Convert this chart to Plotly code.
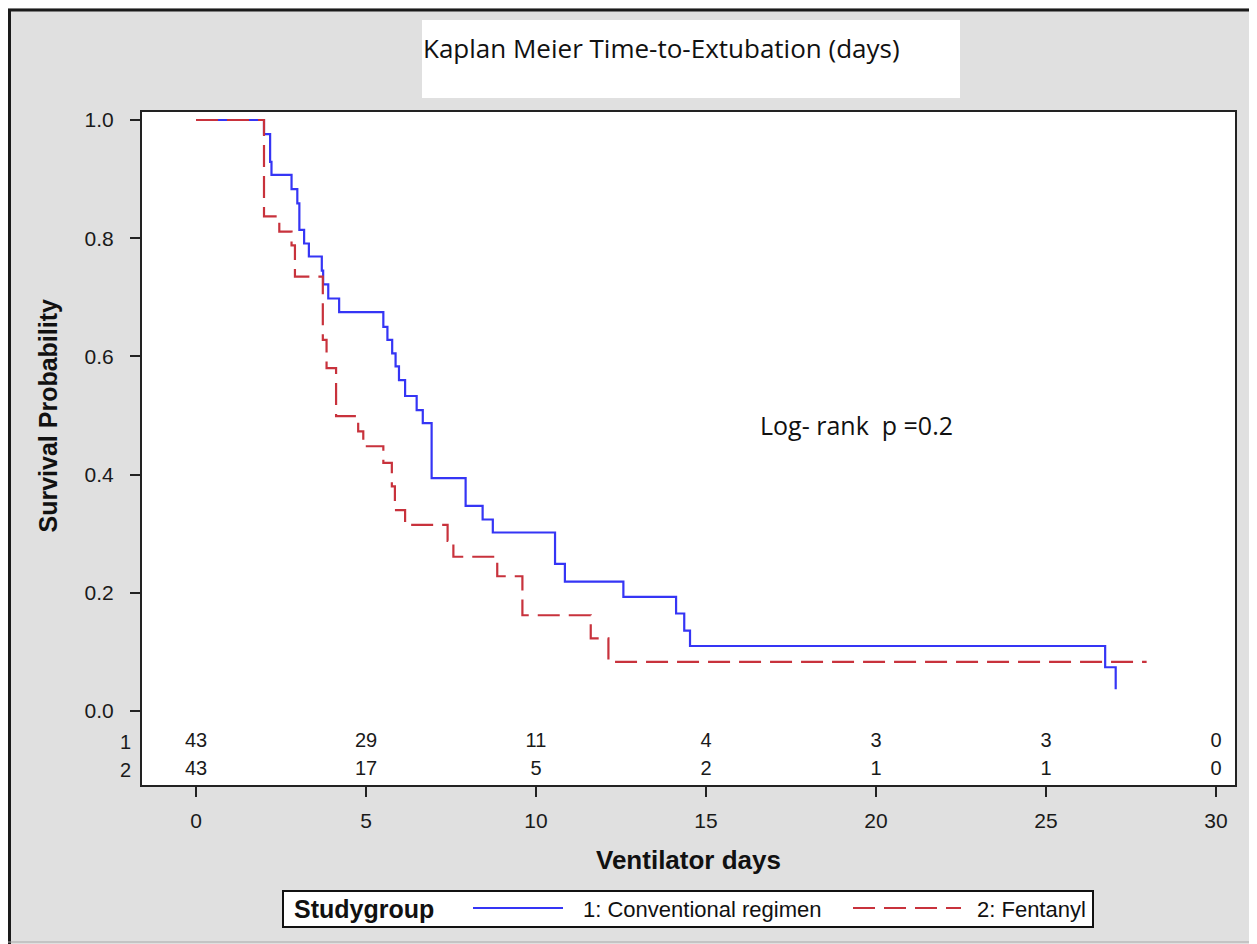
import plotly.graph_objects as go

# ---------------- data ----------------
conv_days = [0, 2.0, 2.18, 2.22, 2.81, 2.98, 3.04, 3.18, 3.32, 3.70, 3.74, 3.89, 4.21,
             5.51, 5.63, 5.77, 5.87, 5.97, 6.15, 6.49, 6.67, 6.93, 7.93, 8.43, 8.73,
             10.56, 10.85, 12.57, 14.12, 14.36, 14.53, 26.74, 27.05]
conv_surv = [1.0, 0.976, 0.929, 0.907, 0.883, 0.859, 0.814, 0.791, 0.769, 0.745, 0.722, 0.698, 0.675,
             0.650, 0.628, 0.605, 0.583, 0.560, 0.533, 0.509, 0.487, 0.394, 0.347, 0.324, 0.302,
             0.249, 0.219, 0.193, 0.165, 0.136, 0.110, 0.074, 0.037]

fent_days = [0, 2.0, 2.45, 2.81, 2.91, 3.73, 3.84, 4.12, 4.77, 4.92, 5.51, 5.76, 5.85,
             6.15, 7.40, 7.57, 8.86, 9.60, 11.61, 12.13, 27.96]
fent_surv = [1.0, 0.837, 0.811, 0.788, 0.735, 0.628, 0.580, 0.499, 0.473, 0.448, 0.420, 0.380, 0.340,
             0.315, 0.288, 0.261, 0.228, 0.162, 0.123, 0.083, 0.083]

risk_days = [0, 5, 10, 15, 20, 25, 30]
risk_conv = [43, 29, 11, 4, 3, 3, 0]
risk_fent = [43, 17, 5, 2, 1, 1, 0]

x_ticks = [0, 5, 10, 15, 20, 25, 30]
y_ticks = [0.0, 0.2, 0.4, 0.6, 0.8, 1.0]
y_ticktext = ["0.0", "0.2", "0.4", "0.6", "0.8", "1.0"]

group_names = ["1: Conventional regimen", "2: Fentanyl"]
title_text = "Kaplan Meier Time-to-Extubation (days)"
pval_text = "Log- rank  p =0.2"

# ---------------- layout geometry (page pixels; page body has an 8px margin) ----------------
OFF = 8
W, H = 1257 - OFF, 944 - OFF
PL, PR, PT, PB = 142, 1235, 112, 785      # plot area in page pixels
RISK_Y = [-0.052, -0.100]


def px(x):
    return (x - PL) / (PR - PL)


def py(y):
    return (PB - y) / (PB - PT)


BLUE = "#3535f5"
RED = "#c8323c"
SANS = "Liberation Sans, Arial, sans-serif"
CAL = "Open Sans, Lato, sans-serif"

fig = go.Figure()
fig.add_trace(go.Scatter(x=conv_days, y=conv_surv, mode="lines", line_shape="hv",
                         line=dict(color=BLUE, width=2.2), name=group_names[0],
                         showlegend=False, hoverinfo="skip"))
fig.add_trace(go.Scatter(x=fent_days, y=fent_surv, mode="lines", line_shape="hv",
                         line=dict(color=RED, width=2.2, dash="22px,9px"), name=group_names[1],
                         showlegend=False, hoverinfo="skip"))

# number at risk rows
fig.add_trace(go.Scatter(x=risk_days, y=[RISK_Y[0]] * len(risk_days), mode="text",
                         text=[str(v) for v in risk_conv], textposition="middle center",
                         textfont=dict(family=SANS, size=20, color="#1a1a1a"),
                         showlegend=False, hoverinfo="skip", cliponaxis=False))
fig.add_trace(go.Scatter(x=risk_days, y=[RISK_Y[1]] * len(risk_days), mode="text",
                         text=[str(v) for v in risk_fent], textposition="middle center",
                         textfont=dict(family=SANS, size=20, color="#1a1a1a"),
                         showlegend=False, hoverinfo="skip", cliponaxis=False))

shapes = []
# frame borders
shapes.append(dict(type="line", xref="paper", yref="paper", x0=px(8), x1=px(1257), y0=py(10), y1=py(10),
                   line=dict(color="#1a1a1a", width=3)))
shapes.append(dict(type="line", xref="paper", yref="paper", x0=px(9.5), x1=px(9.5), y0=py(9), y1=py(944),
                   line=dict(color="#1a1a1a", width=3)))
shapes.append(dict(type="line", xref="paper", yref="paper", x0=px(1255), x1=px(1255), y0=py(9), y1=py(944),
                   line=dict(color="#a8a8a8", width=1)))
shapes.append(dict(type="line", xref="paper", yref="paper", x0=px(8), x1=px(1257), y0=py(942), y1=py(942),
                   line=dict(color="#a8a8a8", width=1)))
# title box
shapes.append(dict(type="rect", xref="paper", yref="paper", x0=px(422), x1=px(960), y0=py(98), y1=py(20),
                   fillcolor="white", line=dict(width=0), layer="below"))
# legend box
shapes.append(dict(type="rect", xref="paper", yref="paper", x0=px(283), x1=px(1093), y0=py(927), y1=py(891),
                   fillcolor="white", line=dict(color="#111", width=2)))
shapes.append(dict(type="line", xref="paper", yref="paper", x0=px(473), x1=px(563), y0=py(908), y1=py(908),
                   line=dict(color=BLUE, width=2.2)))
shapes.append(dict(type="line", xref="paper", yref="paper", x0=px(853), x1=px(961), y0=py(908), y1=py(908),
                   line=dict(color=RED, width=2.2, dash="22px,9px")))

annotations = []
annotations.append(dict(text=title_text, xref="paper", yref="paper", x=px(421), y=py(48),
                        xanchor="left", yanchor="middle", showarrow=False,
                        font=dict(family=CAL, size=26, color="#111")))
annotations.append(dict(text=pval_text, x=19.42, y=0.484, xref="x", yref="y",
                        xanchor="center", yanchor="middle", showarrow=False,
                        font=dict(family=CAL, size=25, color="#111")))
annotations.append(dict(text="<b>Ventilator days</b>", xref="paper", yref="paper", x=px(688), y=py(860),
                        xanchor="center", yanchor="middle", showarrow=False,
                        font=dict(family=SANS, size=26, color="#111")))
annotations.append(dict(text="<b>Survival Probability</b>", xref="paper", yref="y", x=px(47), y=0.5,
                        xanchor="center", yanchor="middle", showarrow=False, textangle=-90,
                        font=dict(family=SANS, size=25, color="#111")))
for lbl, yv in zip(["1", "2"], RISK_Y):
    annotations.append(dict(text=lbl, xref="paper", yref="y", x=px(133), y=yv,
                            xanchor="right", yanchor="middle", showarrow=False,
                            font=dict(family=SANS, size=20, color="#1a1a1a")))
annotations.append(dict(text="<b>Studygroup</b>", xref="paper", yref="paper", x=px(292), y=py(909),
                        xanchor="left", yanchor="middle", showarrow=False,
                        font=dict(family=SANS, size=25, color="#111")))
annotations.append(dict(text=group_names[0], xref="paper", yref="paper", x=px(581), y=py(909),
                        xanchor="left", yanchor="middle", showarrow=False,
                        font=dict(family=SANS, size=22, color="#111")))
annotations.append(dict(text=group_names[1], xref="paper", yref="paper", x=px(975), y=py(909),
                        xanchor="left", yanchor="middle", showarrow=False,
                        font=dict(family=SANS, size=22, color="#111")))

fig.update_layout(
    width=W, height=H,
    margin=dict(l=PL - OFF, r=1257 - PR, t=PT - OFF, b=944 - PB, pad=0),
    paper_bgcolor="#e0e0e0",
    plot_bgcolor="white",
    showlegend=False,
    shapes=shapes,
    annotations=annotations,
    xaxis=dict(range=[(PL - 196) / 34, (PR - 196) / 34], tickvals=x_ticks,
               ticktext=[str(v) for v in x_ticks],
               showgrid=False, zeroline=False, showline=True, mirror=True,
               linecolor="#222", linewidth=2, ticks="outside", ticklen=10, tickwidth=2,
               tickcolor="#222", ticklabelstandoff=6,
               tickfont=dict(family=SANS, size=21, color="#1a1a1a")),
    yaxis=dict(range=[(711 - PB) / 591, (711 - PT) / 591], tickvals=y_ticks, ticktext=y_ticktext,
               showgrid=False, zeroline=False, showline=True, mirror=True,
               linecolor="#222", linewidth=2, ticks="outside", ticklen=10, tickwidth=2,
               tickcolor="#222", ticklabelstandoff=12,
               tickfont=dict(family=SANS, size=21, color="#1a1a1a")),
)

fig.write_html("out.html")
